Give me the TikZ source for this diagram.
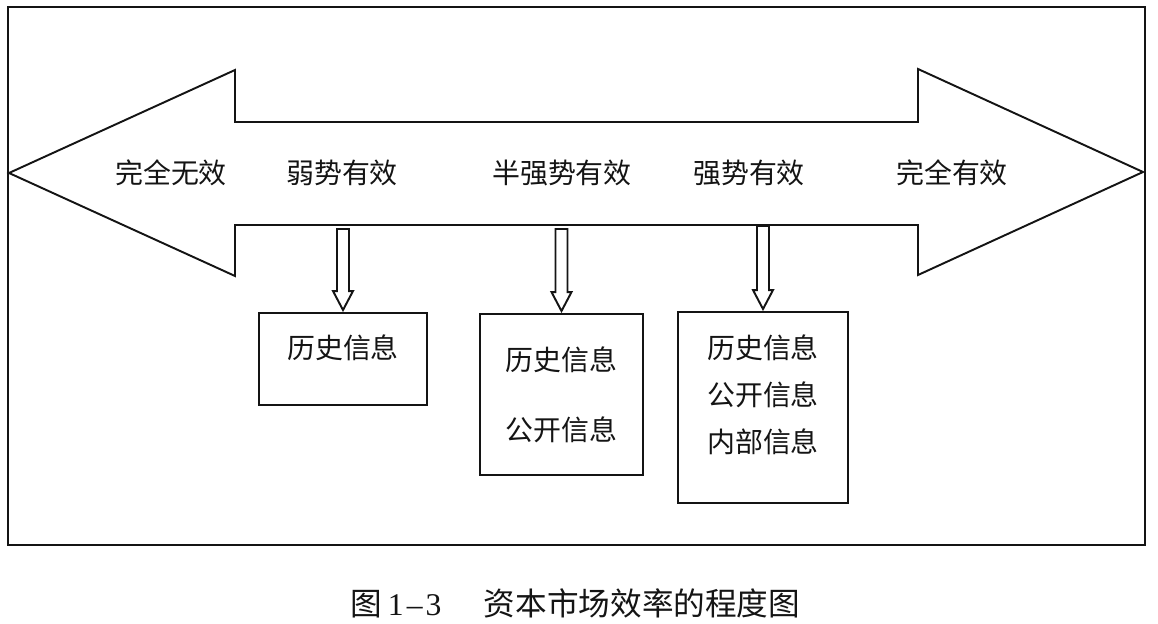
\documentclass[tikz,border=0pt]{standalone}
\usepackage{fontspec}
\newfontfamily\cjk{Noto Sans CJK SC}
\newfontfamily\figfont{Liberation Serif}
\usetikzlibrary{calc}
\definecolor{ink}{RGB}{20,20,20}

\tikzset{
  frame/.style={draw=ink,line width=1.2pt},
  outline/.style={draw=ink,line width=1.1pt,line join=miter},
  level/.style={text=ink,inner sep=0pt,font=\cjk\fontsize{15.9}{26.7}\selectfont},
  infobox/.style={draw=ink,line width=1.1pt,align=center,inner sep=0pt,
    text=ink,font=\cjk\fontsize{15.9}{26.7}\selectfont},
  caption/.style={text=ink,inner sep=0pt,anchor=west,font=\fontsize{18}{20}\selectfont},
}

% hollow arrow from a point on the band down to a box
\newcommand\infoarrow[2]{%
  \draw[outline,fill=white] let \p1=(#1), \p2=(#2.north) in
    (\x2-0.12cm,\y1) -- (\x2-0.12cm,\y2+0.42cm) -- (\x2-0.2cm,\y2+0.42cm)
    -- (\x2,\y2+0.04cm) -- (\x2+0.2cm,\y2+0.42cm) -- (\x2+0.12cm,\y2+0.42cm)
    -- (\x2+0.12cm,\y1) -- cycle;
}

\begin{document}
\begin{tikzpicture}[x=0.02cm,y=-0.02cm]
  \useasboundingbox (0,0) rectangle (1158,624);
  \draw[frame] (8,7) rectangle (1145,545);

  % double-headed band
  \coordinate (L) at (9,173);
  \coordinate (R) at (1143,172);
  \draw[outline] (L) -- (235,70) -- (235,122) -- (918,122) -- (918,69) -- (R)
    -- (918,275) -- (918,225) -- (235,225) -- (235,276) -- cycle;

  \node[level] (none) at (171,173) {完全无效};
  \node[level] (weak) at (342,173) {弱势有效};
  \node[level] (semi) at (562,173) {半强势有效};
  \node[level] (strong) at (749,173) {强势有效};
  \node[level] (full) at (952,173) {完全有效};

  % information sets
  \node[infobox,minimum width=3.36cm,minimum height=1.84cm,text depth=0.51cm]
    (hist) at (343,359) {历史信息};
  \node[infobox,minimum width=3.26cm,minimum height=3.22cm]
    (pub) at (561.5,394.5) {历史信息\\[0.46cm]公开信息};
  \node[infobox,minimum width=3.4cm,minimum height=3.82cm,text depth=0.57cm]
    (insider) at (763,407.5) {历史信息\\公开信息\\内部信息};

  \coordinate (t1) at (343,229);
  \coordinate (t2) at (562,229);
  \coordinate (t3) at (763,226);
  \infoarrow{t1}{hist}
  \infoarrow{t2}{pub}
  \infoarrow{t3}{insider}

  \node[caption] (fig) at (350,603)
    {{\cjk 图}\hspace{0.12cm}{\figfont 1\hspace{0.06cm}–\hspace{0.06cm}3}\hspace{0.85cm}{\cjk 资本市场效率的程度图}};
\end{tikzpicture}
\end{document}
